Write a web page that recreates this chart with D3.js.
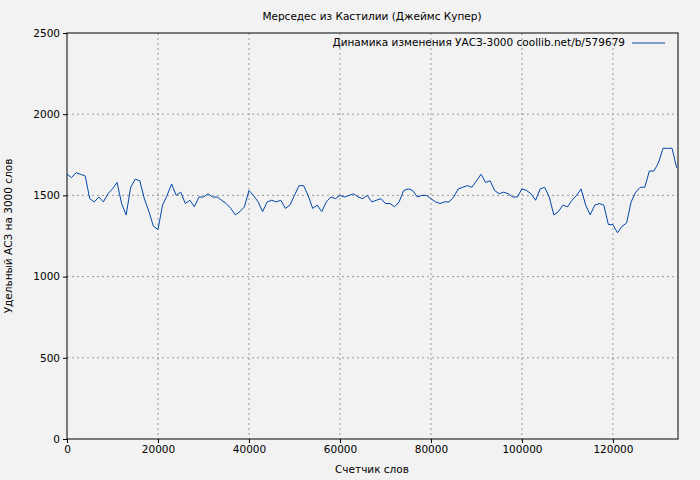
<!DOCTYPE html><html><head><meta charset="utf-8"><script src="https://cdn.jsdelivr.net/npm/d3@7"></script>
<style>body{margin:0;background:#f2f2f2}svg{font-family:"DejaVu Sans",sans-serif}</style></head><body><svg id="c" width="700" height="480"></svg><script>
const xStart=0, xStep=1000;
const values=[1630,1610,1640,1630,1620,1480,1460,1490,1460,1510,1540,1580,1450,1380,1550,1600,1590,1480,1400,1310,1290,1440,1500,1570,1500,1520,1450,1470,1430,1490,1490,1510,1490,1490,1470,1450,1420,1380,1400,1430,1530,1500,1460,1400,1460,1470,1460,1470,1420,1440,1500,1560,1560,1500,1420,1440,1400,1460,1490,1480,1500,1490,1500,1510,1490,1480,1500,1460,1470,1480,1450,1450,1430,1460,1530,1540,1530,1490,1500,1500,1480,1460,1450,1460,1460,1490,1540,1550,1560,1550,1590,1630,1580,1590,1530,1510,1520,1510,1490,1490,1540,1530,1510,1470,1540,1550,1490,1380,1400,1440,1430,1470,1500,1540,1440,1380,1440,1450,1440,1320,1320,1270,1310,1330,1460,1520,1550,1550,1650,1650,1700,1790,1790,1790,1670];
const xTicks=[0,20000,40000,60000,80000,100000,120000];
const yTicks=[0,500,1000,1500,2000,2500];
const title="Мерседес из Кастилии (Джеймс Купер)";
const legendLabel="Динамика изменения УАСЗ-3000 coollib.net/b/579679";
const xLabel="Счетчик слов", yLabel="Удельный АСЗ на 3000 слов";
const FS=10.5;
const svg=d3.select("#c");
const L=67,R=678,T=33,B=439;
const x=d3.scaleLinear().domain([0,134300]).range([L,R]);
const y=d3.scaleLinear().domain([0,2500]).range([B,T]);
const g=svg.append("g");
xTicks.forEach(t=>{if(t>0)g.append("line").attr("x1",x(t)).attr("x2",x(t)).attr("y1",T).attr("y2",B).attr("stroke","#999").attr("stroke-dasharray","2,3");});
yTicks.forEach(t=>{if(t>0&&t<2500)g.append("line").attr("x1",L).attr("x2",R).attr("y1",y(t)).attr("y2",y(t)).attr("stroke","#999").attr("stroke-dasharray","2,3");});
svg.append("rect").attr("x",L).attr("y",T).attr("width",R-L).attr("height",B-T).attr("fill","none").attr("stroke","#000");
svg.append("g").attr("transform",`translate(0,${B})`).call(d3.axisBottom(x).tickValues(xTicks).tickFormat(d3.format("d")).tickSize(4)).call(a=>{a.select(".domain").remove();a.selectAll("text").attr("font-size",FS).attr("font-family","DejaVu Sans");});
svg.append("g").attr("transform",`translate(${L},0)`).call(d3.axisLeft(y).tickValues(yTicks).tickFormat(d3.format("d")).tickSize(4)).call(a=>{a.select(".domain").remove();a.selectAll("text").attr("font-size",FS).attr("font-family","DejaVu Sans");});
const data=values.map((v,i)=>[xStart+i*xStep,v]);
svg.append("path").datum(data).attr("d",d3.line().x(d=>x(d[0])).y(d=>y(d[1]))).attr("fill","none").attr("stroke","#0047ab").attr("stroke-width",1);
svg.append("text").attr("x",372).attr("y",20).attr("text-anchor","middle").attr("font-size",FS).text(title);
svg.append("text").attr("x",372).attr("y",473).attr("text-anchor","middle").attr("font-size",FS).text(xLabel);
svg.append("text").attr("transform","translate(12,236) rotate(-90)").attr("text-anchor","middle").attr("font-size",FS).text(yLabel);
svg.append("text").attr("x",625).attr("y",46).attr("text-anchor","end").attr("font-size",FS).text(legendLabel);
svg.append("line").attr("x1",632).attr("x2",665).attr("y1",43).attr("y2",43).attr("stroke","#0047ab");
</script></body></html>
